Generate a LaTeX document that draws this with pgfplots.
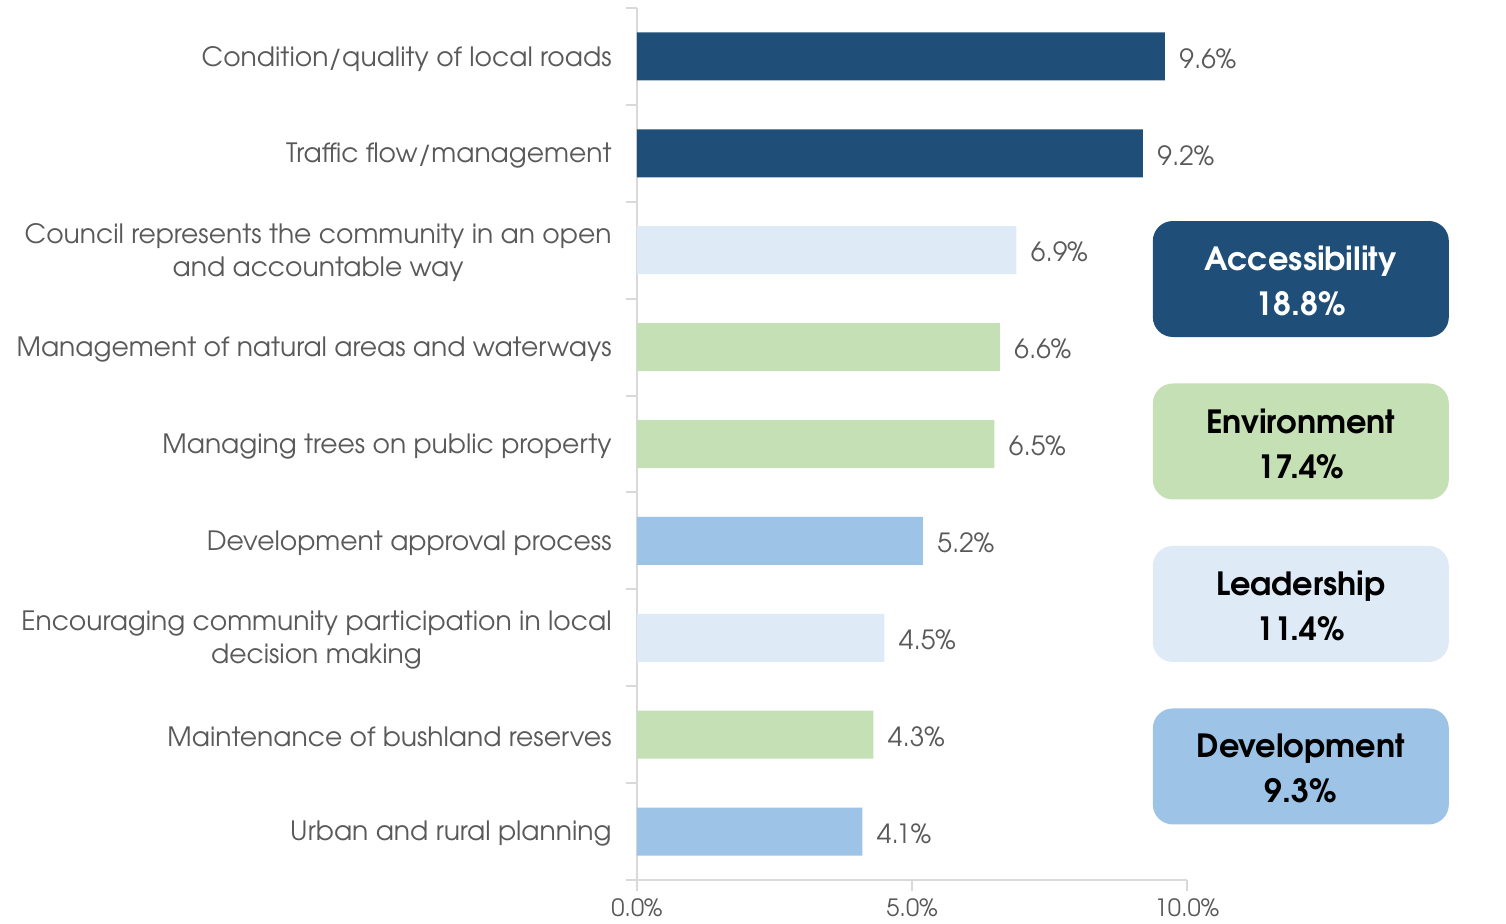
\documentclass[border=0pt]{standalone}
\usepackage{fontspec}
\setmainfont{texgyreadventor}[Extension=.otf, UprightFont=*-regular, BoldFont=*-bold, ItalicFont=*-italic, BoldItalicFont=*-bolditalic]
\usepackage{pgfplots}
\pgfplotsset{compat=1.18}
\definecolor{navy}{HTML}{1F4E79}
\definecolor{lightb}{HTML}{DEEBF7}
\definecolor{greenb}{HTML}{C5E0B4}
\definecolor{midb}{HTML}{9DC3E6}
\definecolor{axgray}{HTML}{D9D9D9}
\definecolor{txt}{HTML}{595959}
\tikzset{catbox/.style={rounded corners=10pt, minimum width=148pt, minimum height=58pt},
  cattext/.style={align=center, yshift=-1.2pt, font=\bfseries\fontsize{16}{22.5}\selectfont}}
\begin{document}
\begin{tikzpicture}
\begin{axis}[
  at={(0,0)}, anchor=south west,
  scale only axis, width=275pt, height=436pt,
  xmin=0, xmax=10, ymin=-0.5, ymax=8.5,
  clip=false,
  axis x line*=bottom, axis y line*=left,
  axis line style={draw=axgray, line width=1pt, -},
  /pgf/number format/assume math mode=true,
  font=\fontsize{13.3}{16.5}\selectfont,
  xtick={0,5,10}, xticklabels={0.0\%,5.0\%,10.0\%},
  ytick={0,...,8},
  yticklabels={Urban and rural planning,Maintenance of bushland reserves,{Encouraging community participation in local\\decision making},Development approval process,Managing trees on public property,Management of natural areas and waterways,{Council represents the community in an open\\and accountable way},Traffic flow/management,Condition/quality of local roads},
  major tick length=0pt,
  minor xtick={0,5,10}, minor ytick={-0.5,0.5,...,8.5},
  minor tick length=5.5pt, tick align=outside,
  minor tick style={draw=axgray, line width=1pt},
  yticklabel style={anchor=east, inner sep=0pt, xshift=-12.5pt, yshift=-1.2pt, align=center, text=txt, font=\fontsize{13.3}{16.5}\selectfont},
  xticklabel style={anchor=north, inner sep=0pt, yshift=-9pt, text=txt, font=\fontsize{11.9}{14}\selectfont},
  xbar, bar width=24pt, bar shift=0pt,
  point meta=x,
  nodes near coords={\pgfmathprintnumber[fixed,fixed zerofill,precision=1]{\pgfplotspointmeta}\%},
  every node near coord/.append style={anchor=west, inner sep=0pt, xshift=7pt, yshift=-1pt, text=txt, font=\fontsize{13.2}{16.5}\selectfont},
]
\addplot[fill=navy, draw=none] coordinates {(9.6,8) (9.2,7)};
\addplot[fill=lightb, draw=none] coordinates {(6.9,6) (4.5,2)};
\addplot[fill=greenb, draw=none] coordinates {(6.6,5) (6.5,4) (4.3,1)};
\addplot[fill=midb, draw=none] coordinates {(5.2,3) (4.1,0)};
\node[catbox, fill=navy] at (axis cs:12.07,5.703) {};
\node[cattext, text=white] at (axis cs:12.07,5.703) {Accessibility\\18.8\%};
\node[catbox, fill=greenb] at (axis cs:12.07,4.026) {};
\node[cattext, text=black] at (axis cs:12.07,4.026) {Environment\\17.4\%};
\node[catbox, fill=lightb] at (axis cs:12.07,2.349) {};
\node[cattext, text=black] at (axis cs:12.07,2.349) {Leadership\\11.4\%};
\node[catbox, fill=midb] at (axis cs:12.07,0.672) {};
\node[cattext, text=black] at (axis cs:12.07,0.672) {Development\\9.3\%};
\end{axis}
\pgfresetboundingbox
\path (-318.5pt,-21.5pt) rectangle (434.5pt,440pt);
\end{tikzpicture}
\end{document}
